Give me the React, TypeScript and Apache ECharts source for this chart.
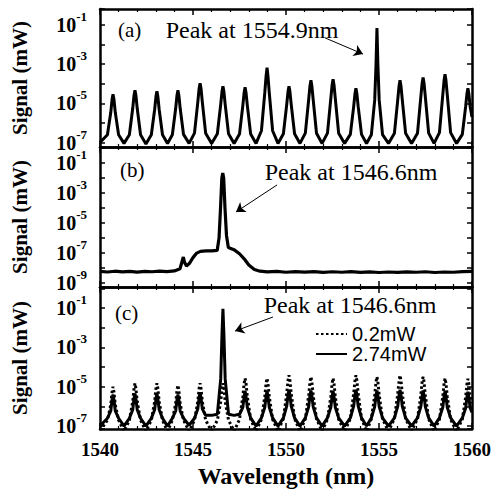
import React, { useEffect, useRef } from 'react';
import * as echarts from 'echarts';

// Shared wavelength grid for the comb spectra of panels (a) and (c), nm
const combWl = [
  1540.00,
  1540.40, 1540.58, 1540.65, 1540.70, 1540.75, 1540.82, 1541.00, 1541.29,
  1541.58, 1541.76, 1541.83, 1541.88, 1541.93, 1542.00, 1542.18, 1542.47,
  1542.76, 1542.94, 1543.01, 1543.06, 1543.11, 1543.18, 1543.36, 1543.63,
  1543.89, 1544.07, 1544.14, 1544.19, 1544.24, 1544.31, 1544.49, 1544.79,
  1545.08, 1545.26, 1545.33, 1545.38, 1545.43, 1545.50, 1545.68, 1546.00,
  1546.31, 1546.49, 1546.56, 1546.61, 1546.66, 1546.73, 1546.91, 1547.21,
  1547.50, 1547.68, 1547.75, 1547.80, 1547.85, 1547.92, 1548.10, 1548.39,
  1548.68, 1548.86, 1548.93, 1548.98, 1549.03, 1549.10, 1549.28, 1549.57,
  1549.86, 1550.04, 1550.11, 1550.16, 1550.21, 1550.28, 1550.46, 1550.75,
  1551.04, 1551.22, 1551.29, 1551.34, 1551.39, 1551.46, 1551.64, 1551.94,
  1552.23, 1552.41, 1552.48, 1552.53, 1552.58, 1552.65, 1552.83, 1553.15,
  1553.46, 1553.64, 1553.71, 1553.76, 1553.81, 1553.88, 1554.06, 1554.33,
  1554.59, 1554.77, 1554.84, 1554.89, 1554.94, 1555.01, 1555.19, 1555.51,
  1555.83, 1556.01, 1556.08, 1556.13, 1556.18, 1556.25, 1556.43, 1556.75,
  1557.07, 1557.25, 1557.32, 1557.37, 1557.42, 1557.49, 1557.67, 1557.96,
  1558.25, 1558.43, 1558.50, 1558.55, 1558.60, 1558.67, 1558.85, 1559.17,
  1559.48, 1559.66, 1559.73, 1559.78, 1559.83, 1559.90, 1560.00,
];

// Panel (a) signal, mW
const signalA = [
  1.0e-7,
  2.5e-7, 3.5e-6, 1.6e-5, 2.9e-5, 1.6e-5, 3.5e-6, 2.5e-7, 9e-8,
  2.5e-7, 5.6e-6, 2.6e-5, 4.7e-5, 2.6e-5, 5.6e-6, 2.5e-7, 8.5e-8,
  2.5e-7, 5.0e-6, 2.3e-5, 4.2e-5, 2.3e-5, 5.0e-6, 2.5e-7, 9e-8,
  2.5e-7, 5.6e-6, 2.6e-5, 4.7e-5, 2.6e-5, 5.6e-6, 2.6e-7, 9e-8,
  3.0e-7, 1.2e-5, 5.9e-5, 1.07e-4, 5.9e-5, 1.2e-5, 3.0e-7, 9e-8,
  2.8e-7, 8.9e-6, 4.1e-5, 7.4e-5, 4.1e-5, 8.9e-6, 2.8e-7, 9e-8,
  2.7e-7, 7.9e-6, 3.6e-5, 6.6e-5, 3.6e-5, 7.9e-6, 2.7e-7, 9e-8,
  4.0e-7, 3.5e-5, 2.5e-4, 6.6e-4, 2.5e-4, 3.5e-5, 4.0e-7, 9e-8,
  2.8e-7, 8.9e-6, 4.1e-5, 7.4e-5, 4.1e-5, 8.9e-6, 2.8e-7, 9e-8,
  3.0e-7, 1.6e-5, 8.0e-5, 1.5e-4, 8.0e-5, 1.6e-5, 3.0e-7, 9e-8,
  3.0e-7, 1.8e-5, 9.0e-5, 1.7e-4, 9.0e-5, 1.8e-5, 3.0e-7, 9e-8,
  2.6e-7, 7.0e-6, 3.2e-5, 5.9e-5, 3.2e-5, 7.0e-6, 2.6e-7, 9e-8,
  2.5e-7, 1.5e-5, 1.0e-3, 7.0e-2, 1.0e-3, 1.5e-5, 2.5e-7, 9e-8,
  3.0e-7, 1.6e-5, 8.0e-5, 1.5e-4, 8.0e-5, 1.6e-5, 3.0e-7, 9e-8,
  3.0e-7, 2.2e-5, 1.1e-4, 2.1e-4, 1.1e-4, 2.2e-5, 3.0e-7, 9e-8,
  3.2e-7, 2.8e-5, 1.5e-4, 3.1e-4, 1.5e-4, 2.8e-5, 3.2e-7, 9e-8,
  2.6e-7, 7.0e-6, 3.2e-5, 5.9e-5, 3.2e-5, 7.0e-6, 2.0e-6,
];

// Panel (c), pump 0.2 mW (dotted), mW
const signalC02 = [
  6e-8,
  2.0e-7, 1.2e-6, 5.5e-6, 1.0e-5, 5.5e-6, 1.2e-6, 2.0e-7, 5.5e-8,
  2.0e-7, 1.8e-6, 8.3e-6, 1.5e-5, 8.3e-6, 1.8e-6, 2.0e-7, 5.5e-8,
  2.0e-7, 1.8e-6, 8.3e-6, 1.5e-5, 8.3e-6, 1.8e-6, 2.0e-7, 5.5e-8,
  2.0e-7, 1.4e-6, 6.6e-6, 1.2e-5, 6.6e-6, 1.4e-6, 2.0e-7, 5.5e-8,
  2.0e-7, 1.8e-6, 8.3e-6, 1.5e-5, 8.3e-6, 1.8e-6, 2.0e-7, 5.5e-8,
  2.0e-7, 1.8e-6, 8.3e-6, 1.5e-5, 8.3e-6, 1.8e-6, 2.0e-7, 5.5e-8,
  2.2e-7, 3.2e-6, 1.5e-5, 2.7e-5, 1.5e-5, 3.2e-6, 2.2e-7, 5.5e-8,
  2.2e-7, 3.2e-6, 1.5e-5, 2.7e-5, 1.5e-5, 3.2e-6, 2.2e-7, 5.5e-8,
  2.4e-7, 4.6e-6, 2.1e-5, 3.8e-5, 2.1e-5, 4.6e-6, 2.4e-7, 5.5e-8,
  2.3e-7, 3.8e-6, 1.8e-5, 3.2e-5, 1.8e-5, 3.8e-6, 2.3e-7, 5.5e-8,
  2.2e-7, 3.2e-6, 1.5e-5, 2.7e-5, 1.5e-5, 3.2e-6, 2.2e-7, 5.5e-8,
  2.4e-7, 4.6e-6, 2.1e-5, 3.8e-5, 2.1e-5, 4.6e-6, 2.4e-7, 5.5e-8,
  2.3e-7, 3.8e-6, 1.8e-5, 3.2e-5, 1.8e-5, 3.8e-6, 2.3e-7, 5.5e-8,
  2.4e-7, 4.6e-6, 2.1e-5, 3.8e-5, 2.1e-5, 4.6e-6, 2.4e-7, 5.5e-8,
  2.3e-7, 3.8e-6, 1.8e-5, 3.2e-5, 1.8e-5, 3.8e-6, 2.3e-7, 5.5e-8,
  2.2e-7, 3.2e-6, 1.5e-5, 2.7e-5, 1.5e-5, 3.2e-6, 2.2e-7, 5.5e-8,
  2.2e-7, 3.0e-6, 1.4e-5, 2.5e-5, 1.4e-5, 3.0e-6, 1.5e-6,
];

// Panel (c), pump 2.74 mW (solid), mW
const signalC274 = [
  1.0e-7,
  2.5e-7, 6.0e-7, 2.2e-6, 4.0e-6, 2.2e-6, 6.0e-7, 2.5e-7, 1.0e-7,
  2.5e-7, 6.8e-7, 2.5e-6, 4.5e-6, 2.5e-6, 6.8e-7, 2.5e-7, 1.0e-7,
  2.5e-7, 6.8e-7, 2.5e-6, 4.5e-6, 2.5e-6, 6.8e-7, 2.5e-7, 1.0e-7,
  2.5e-7, 6.0e-7, 2.2e-6, 4.0e-6, 2.2e-6, 6.0e-7, 2.5e-7, 1.1e-7,
  2.5e-7, 7.5e-7, 2.8e-6, 5.0e-6, 2.8e-6, 7.5e-7, 3.5e-7, 3.5e-7,
  4.0e-7, 2.5e-5, 5.0e-3, 9.0e-2, 5.0e-3, 2.5e-5, 4.0e-7, 3.5e-7,
  4.0e-7, 9.0e-7, 3.3e-6, 6.0e-6, 3.3e-6, 9.0e-7, 2.6e-7, 1.0e-7,
  2.6e-7, 9.0e-7, 3.3e-6, 6.0e-6, 3.3e-6, 9.0e-7, 2.6e-7, 1.0e-7,
  2.6e-7, 1.05e-6, 3.9e-6, 7.0e-6, 3.9e-6, 1.05e-6, 2.6e-7, 1.0e-7,
  2.6e-7, 9.8e-7, 3.6e-6, 6.5e-6, 3.6e-6, 9.8e-7, 2.6e-7, 1.0e-7,
  2.6e-7, 9.0e-7, 3.3e-6, 6.0e-6, 3.3e-6, 9.0e-7, 2.6e-7, 1.0e-7,
  2.6e-7, 1.05e-6, 3.9e-6, 7.0e-6, 3.9e-6, 1.05e-6, 2.6e-7, 1.0e-7,
  2.6e-7, 9.8e-7, 3.6e-6, 6.5e-6, 3.6e-6, 9.8e-7, 2.6e-7, 1.0e-7,
  2.6e-7, 1.05e-6, 3.9e-6, 7.0e-6, 3.9e-6, 1.05e-6, 2.6e-7, 1.0e-7,
  2.6e-7, 9.8e-7, 3.6e-6, 6.5e-6, 3.6e-6, 9.8e-7, 2.6e-7, 1.0e-7,
  2.6e-7, 9.0e-7, 3.3e-6, 6.0e-6, 3.3e-6, 9.0e-7, 2.6e-7, 1.0e-7,
  2.6e-7, 8.3e-7, 3.0e-6, 5.5e-6, 3.0e-6, 8.3e-7, 5.0e-7,
];

// Panel (b) wavelength grid and signal
const wlB = [
  1540.0, 1540.4, 1540.8, 1541.2, 1541.6, 1542.0, 1542.4, 1542.8, 1543.2, 1543.6,
  1544.0, 1544.3, 1544.42, 1544.48, 1544.54, 1544.65, 1544.8, 1545.0, 1545.2, 1545.4,
  1545.7, 1546.0, 1546.3, 1546.4, 1546.48, 1546.55, 1546.6, 1546.65, 1546.72, 1546.8,
  1546.9, 1547.2, 1547.5, 1547.8, 1548.0, 1548.3, 1548.6, 1549.0, 1549.5, 1550.0,
  1550.5, 1551.0, 1551.5, 1552.0, 1552.5, 1553.0, 1553.5, 1554.0, 1554.5, 1555.0,
  1555.5, 1556.0, 1556.5, 1557.0, 1557.5, 1558.0, 1558.5, 1559.0, 1559.5, 1560.0,
];
const signalB = [
  6.0e-9, 5.5e-9, 6.2e-9, 5.6e-9, 6.0e-9, 5.4e-9, 6.0e-9, 5.7e-9, 6.2e-9, 5.8e-9,
  6.5e-9, 9.0e-9, 3.0e-8, 5.5e-8, 2.5e-8, 1.4e-8, 2.0e-8, 5.0e-8, 1.0e-7, 1.3e-7,
  1.4e-7, 1.4e-7, 1.5e-7, 1.0e-6, 1.0e-4, 1.0e-2, 2.2e-2, 1.0e-2, 1.0e-4, 1.5e-6,
  2.4e-7, 1.7e-7, 9.0e-8, 3.5e-8, 1.6e-8, 8.0e-9, 6.2e-9, 5.6e-9, 6.0e-9, 5.3e-9,
  5.8e-9, 5.4e-9, 5.9e-9, 5.2e-9, 5.7e-9, 5.3e-9, 5.8e-9, 5.2e-9, 5.6e-9, 5.1e-9,
  5.5e-9, 5.2e-9, 5.6e-9, 5.3e-9, 5.7e-9, 5.1e-9, 5.5e-9, 5.3e-9, 5.8e-9, 6.0e-9,
];

const xTickValues = [1540, 1545, 1550, 1555, 1560];

const SERIF = 'Liberation Serif';
const SANS = 'Liberation Sans';

const pairs = (xs: number[], ys: number[]) => xs.map((x, i) => [x, ys[i]]);

const panels = [
  { top: 9, height: 138, min: 5.9e-8, max: 0.66, split: 7 },
  { top: 147, height: 140, min: 5.5e-10, max: 1.18, split: 9 },
  { top: 287, height: 142, min: 7.1e-8, max: 1.17, split: 7 },
];

const logLabel = (v: number) => {
  const l = Math.log10(v);
  const e = Math.round(l);
  if (Math.abs(l - e) > 0.02 || e % 2 === 0) return '';
  return '{b|10}{s|' + e + '}';
};

export default function App() {
  const ref = useRef<HTMLDivElement>(null);
  useEffect(() => {
    if (!ref.current) return;
    const chart = echarts.init(ref.current, undefined, { renderer: 'svg' });
    const black = '#000';
    const grids = panels.map((p) => ({
      left: 100,
      right: 23,
      top: p.top,
      height: p.height,
      containLabel: false,
      outerBoundsMode: 'none',
    }));
    const xAxes: any[] = [];
    const yAxes: any[] = [];
    [0, 1].forEach((side) => {
      panels.forEach((p, i) => {
        const isBottomC = side === 0 && i === 2;
        xAxes.push({
          type: 'value',
          gridIndex: i,
          position: side === 0 ? 'bottom' : 'top',
          min: xTickValues[0],
          max: xTickValues[xTickValues.length - 1],
          interval: xTickValues[1] - xTickValues[0],
          axisLine: { show: true, onZero: false, lineStyle: { color: black, width: 2.5 } },
          axisTick: { show: true, inside: true, length: 6, lineStyle: { color: black, width: 1.5 } },
          minorTick: { show: true, splitNumber: 5, length: 3, lineStyle: { color: black, width: 1.2 } },
          splitLine: { show: false },
          axisLabel: {
            show: isBottomC,
            margin: 11,
            color: black,
            fontFamily: SERIF,
            fontWeight: 'bold',
            fontSize: 19,
            formatter: (v: number) => String(v),
          },
          name: isBottomC ? 'Wavelength (nm)' : '',
          nameLocation: 'middle',
          nameGap: 35,
          nameTextStyle: { fontFamily: SERIF, fontWeight: 'bold', fontSize: 24, color: black },
        });
        yAxes.push({
          type: 'log',
          gridIndex: i,
          position: side === 0 ? 'left' : 'right',
          min: p.min,
          max: p.max,
          splitNumber: p.split,
          axisLine: { show: true, onZero: false, lineStyle: { color: black, width: 2.5 } },
          axisTick: { show: true, inside: true, length: 5, lineStyle: { color: black, width: 1.5 } },
          splitLine: { show: false },
          axisLabel: {
            show: side === 0,
            margin: 13,
            formatter: logLabel,
            rich: {
              b: { fontFamily: SERIF, fontWeight: 'bold', fontSize: 20, lineHeight: 30, color: black },
              s: { fontFamily: SERIF, fontWeight: 'bold', fontSize: 13, lineHeight: 14, verticalAlign: 'top', color: black },
            },
          },
          name: side === 0 ? 'Signal (mW)' : '',
          nameLocation: 'middle',
          nameGap: 70,
          nameRotate: 90,
          nameTextStyle: { fontFamily: SERIF, fontWeight: 'bold', fontSize: 21, color: black },
        });
      });
    });

    const arrow = (from: number[], to: number[]) => ({
      silent: true,
      symbol: ['none', 'arrow'],
      symbolSize: 9,
      label: { show: false },
      lineStyle: { color: black, width: 1, type: 'solid' },
      data: [[{ coord: from }, { coord: to }]],
    });

    const txt = (text: string, x: number, y: number, size: number, align = 'left') => ({
      type: 'text',
      x,
      y,
      silent: true,
      style: {
        text,
        fill: black,
        font: `${size}px "${SERIF}"`,
        textAlign: align,
        textVerticalAlign: 'middle',
      },
    });

    chart.setOption({
      animation: false,
      backgroundColor: '#fff',
      grid: grids,
      xAxis: xAxes,
      yAxis: yAxes,
      legend: {
        data: ['0.2mW', '2.74mW'],
        orient: 'vertical',
        left: 315,
        top: 324,
        padding: 0,
        itemWidth: 31,
        itemHeight: 10,
        itemGap: 0,
        itemStyle: { opacity: 0 },
        textStyle: { fontFamily: SANS, fontSize: 20, color: black, lineHeight: 18 },
      },
      series: [
        {
          name: 'a',
          type: 'line',
          xAxisIndex: 0,
          yAxisIndex: 0,
          data: pairs(combWl, signalA),
          symbol: 'none',
          lineStyle: { color: black, width: 3 },
          markLine: arrow([1552.1, 0.022], [1554.14, 3.3e-3]),
        },
        {
          name: 'b',
          type: 'line',
          xAxisIndex: 1,
          yAxisIndex: 1,
          data: pairs(wlB, signalB),
          symbol: 'none',
          lineStyle: { color: black, width: 3.2 },
          markLine: arrow([1549.52, 3.5e-3], [1547.31, 5.5e-5]),
        },
        {
          name: '0.2mW',
          type: 'line',
          xAxisIndex: 2,
          yAxisIndex: 2,
          data: pairs(combWl, signalC02),
          symbol: 'none',
          itemStyle: { color: black },
          lineStyle: { color: black, width: 3, type: [2.5, 2.5] },
        },
        {
          name: '2.74mW',
          type: 'line',
          xAxisIndex: 2,
          yAxisIndex: 2,
          data: pairs(combWl, signalC274),
          symbol: 'none',
          itemStyle: { color: black },
          lineStyle: { color: black, width: 3 },
          markLine: arrow([1549.3, 0.035], [1547.26, 6.7e-3]),
        },
      ],
      graphic: [
        txt('(a)', 118, 30, 21),
        txt('Peak at 1554.9nm', 252, 30, 24, 'center'),
        txt('(b)', 120, 170, 21),
        txt('Peak at 1546.6nm', 351, 172, 24, 'center'),
        txt('(c)', 115, 313, 21),
        txt('Peak at 1546.6nm', 350, 305, 24, 'center'),
      ],
    });
    return () => chart.dispose();
  }, []);
  return (
    <div
      ref={ref}
      style={{ position: 'fixed', left: 0, top: 0, width: 495, height: 491, background: '#fff' }}
    />
  );
}
